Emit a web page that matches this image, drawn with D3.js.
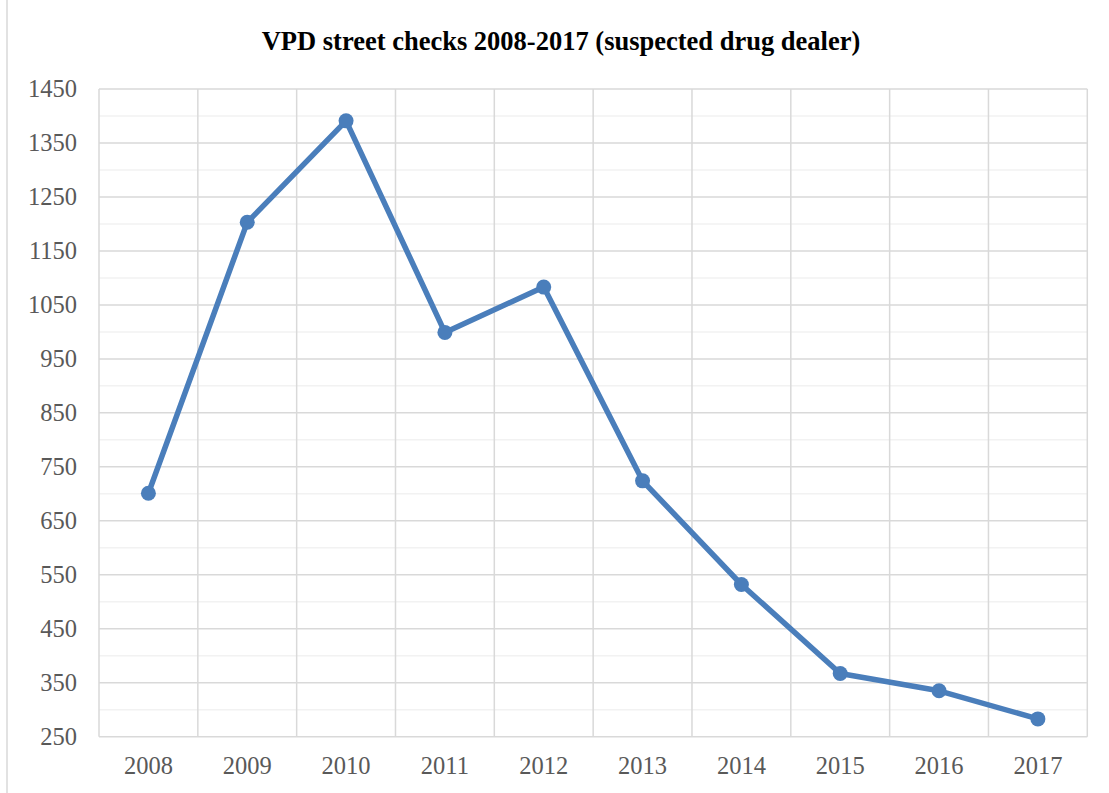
<!DOCTYPE html>
<html><head><meta charset="utf-8">
<script src="https://cdn.jsdelivr.net/npm/d3@7/dist/d3.min.js"></script>
<style>body{margin:0;background:#fff}svg{display:block}</style>
</head><body>
<svg id="c" width="1109" height="793"></svg>
<script>
const years = ["2008","2009","2010","2011","2012","2013","2014","2015","2016","2017"];
const checks = [701, 1203, 1391, 999, 1083, 724, 532, 367, 335, 283];
const yTicks = [250,350,450,550,650,750,850,950,1050,1150,1250,1350,1450];
const yMinorTicks = [300,400,500,600,700,800,900,1000,1100,1200,1300,1400];
const title = "VPD street checks 2008-2017 (suspected drug dealer)";

const svg = d3.select("#c");
const L = 99, R = 1087.3, T = 89, B = 736.7;
svg.append("rect").attr("x",7).attr("y",-2).attr("width",1120).attr("height",800)
  .attr("fill","#fff").attr("stroke","#d9d9d9").attr("stroke-width",1.5);

const x = d3.scaleBand().domain(years).range([L,R]);
const y = d3.scaleLinear().domain([250,1450]).range([B,T]);

svg.append("g").selectAll("line").data(yMinorTicks).join("line")
  .attr("x1",L).attr("x2",R).attr("y1",d=>y(d)).attr("y2",d=>y(d))
  .attr("stroke","#f2f2f2").attr("stroke-width",1.5);
svg.append("g").selectAll("line").data(yTicks).join("line")
  .attr("x1",L).attr("x2",R).attr("y1",d=>y(d)).attr("y2",d=>y(d))
  .attr("stroke","#d9d9d9").attr("stroke-width",1.5);
const bounds = years.map(d=>x(d)).concat([x(years[years.length-1])+x.bandwidth()]);
svg.append("g").selectAll("line").data(bounds).join("line")
  .attr("x1",d=>d).attr("x2",d=>d).attr("y1",T).attr("y2",B)
  .attr("stroke","#d9d9d9").attr("stroke-width",1.5);

const yAxis = d3.axisLeft(y).tickValues(yTicks).tickFormat(d3.format("d")).tickSize(0).tickPadding(22);
const gy = svg.append("g").attr("transform",`translate(${L},0)`).call(yAxis);
gy.select(".domain").remove();
gy.selectAll("text").attr("font-family","'Liberation Serif', serif").attr("font-size",24.5).attr("fill","#595959");

const xAxis = d3.axisBottom(x).tickSize(0).tickPadding(20);
const gx = svg.append("g").attr("transform",`translate(0,${B})`).call(xAxis);
gx.select(".domain").remove();
gx.selectAll("text").attr("font-family","'Liberation Serif', serif").attr("font-size",24.5).attr("fill","#595959");

const line = d3.line().x((d,i)=>x(years[i])+x.bandwidth()/2).y(d=>y(d));
svg.append("path").datum(checks).attr("d",line).attr("fill","none")
  .attr("stroke","#4a7ebb").attr("stroke-width",5.5).attr("stroke-linejoin","round");
svg.append("g").selectAll("circle").data(checks).join("circle")
  .attr("cx",(d,i)=>x(years[i])+x.bandwidth()/2).attr("cy",d=>y(d)).attr("r",7.5)
  .attr("fill","#4a7ebb");

svg.append("text").attr("x",561).attr("y",50).attr("text-anchor","middle")
  .attr("font-family","'Liberation Serif', serif").attr("font-weight","bold")
  .attr("font-size",26.5).attr("fill","#000").text(title);
</script>
</body></html>
